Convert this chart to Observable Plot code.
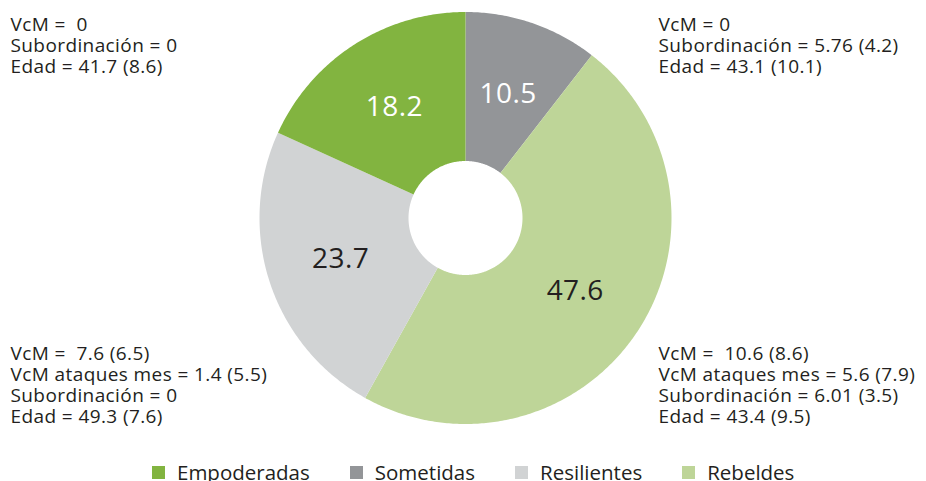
<!DOCTYPE html>
<html>
<head>
<meta charset="utf-8">
<script src="https://cdn.jsdelivr.net/npm/d3@7"></script>
<script src="https://cdn.jsdelivr.net/npm/@observablehq/plot@0.6"></script>
<style>
  html, body { margin: 0; padding: 0; background: #fff; }
  body { width: 926px; height: 481px; overflow: hidden; font-family: "Open Sans", sans-serif; }
  #chart { height: 455px; }
  #legend { position: relative; display: flex; height: 26px; padding-left: 152px; align-items: flex-start; }
  .item { display: flex; align-items: flex-start; margin-right: 40px; font-size: 20.5px; color: #231f20; }
  .item span.t { line-height: 26px; padding-top: 3.5px; display: block; }
  .sw { display: block; width: 13px; height: 13px; margin-right: 12px; margin-top: 11px; }
</style>
</head>
<body>
<div id="chart"></div>
<div id="legend"></div>
<script>
// Data
const categories = ["Sometidas", "Rebeldes", "Resilientes", "Empoderadas"];
const values = [10.5, 47.6, 23.7, 18.2];
const colors = ["#939598", "#bed598", "#d1d3d4", "#82b440"];
const labelColors = ["#ffffff", "#231f20", "#231f20", "#ffffff"];
const legendOrder = ["Empoderadas", "Sometidas", "Resilientes", "Rebeldes"];
const notes = [
  "VcM =  0\nSubordinación = 0\nEdad = 41.7 (8.6)",
  "VcM = 0\nSubordinación = 5.76 (4.2)\nEdad = 43.1 (10.1)",
  "VcM =  7.6 (6.5)\nVcM ataques mes = 1.4 (5.5)\nSubordinación = 0\nEdad = 49.3 (7.6)",
  "VcM =  10.6 (8.6)\nVcM ataques mes = 5.6 (7.9)\nSubordinación = 6.01 (3.5)\nEdad = 43.4 (9.5)"
];

// Layout
const W = 926, H = 455;
const cx = 465, cy = 217.5, R = 206;
const inner = 57 / R;

const rows = categories.map((c, i) => ({cat: c, value: values[i], color: colors[i], label: labelColors[i]}));
const arcs = d3.pie().sort(null).value(d => d.value)(rows);

function slicePath(a) {
  const pts = [];
  const n = Math.max(2, Math.ceil((a.endAngle - a.startAngle) / 0.01));
  for (let k = 0; k <= n; k++) {
    const t = a.startAngle + (a.endAngle - a.startAngle) * k / n;
    pts.push({x: Math.sin(t), y: Math.cos(t)});
  }
  for (let k = n; k >= 0; k--) {
    const t = a.startAngle + (a.endAngle - a.startAngle) * k / n;
    pts.push({x: inner * Math.sin(t), y: inner * Math.cos(t)});
  }
  return pts;
}

const arcGen = d3.arc().innerRadius(inner).outerRadius(1);
const labels = arcs.map(a => {
  const c = arcGen.centroid(a);
  return {x: c[0], y: -c[1], text: String(a.data.value), color: a.data.label};
});

const textColor = "#231f20";
const noteOpts = {frameAnchor: "top-left", textAnchor: "start", lineAnchor: "top", fontSize: 19, lineHeight: 1.105, fill: textColor};
const chart = Plot.plot({
  width: W,
  height: H,
  margin: 0,
  x: {type: "linear", domain: [-cx / R, (W - cx) / R], range: [0, W], axis: null},
  y: {type: "linear", domain: [cy / R, (cy - H) / R], range: [0, H], axis: null},
  style: {fontFamily: "'Open Sans', sans-serif", background: "#fff", letterSpacing: "0.4px"},
  marks: [
    ...arcs.map(a => Plot.line(slicePath(a), {x: "x", y: "y", fill: a.data.color, stroke: "none"})),
    Plot.text(labels, {x: "x", y: "y", text: "text", fill: "color", fontSize: 28}),
    Plot.text([notes[0]], {...noteOpts, dx: 10, dy: 15.5}),
    Plot.text([notes[1]], {...noteOpts, dx: 658, dy: 15.5}),
    Plot.text([notes[2]], {...noteOpts, dx: 10, dy: 344.5}),
    Plot.text([notes[3]], {...noteOpts, dx: 658, dy: 344.5})
  ]
});
document.getElementById("chart").append(chart);

const legend = document.getElementById("legend");
legendOrder.forEach(name => {
  const i = categories.indexOf(name);
  const item = document.createElement("div");
  item.className = "item";
  const sw = document.createElement("span");
  sw.className = "sw";
  sw.style.background = colors[i];
  const t = document.createElement("span");
  t.className = "t";
  t.textContent = name;
  item.append(sw, t);
  legend.append(item);
});
</script>
</body>
</html>
